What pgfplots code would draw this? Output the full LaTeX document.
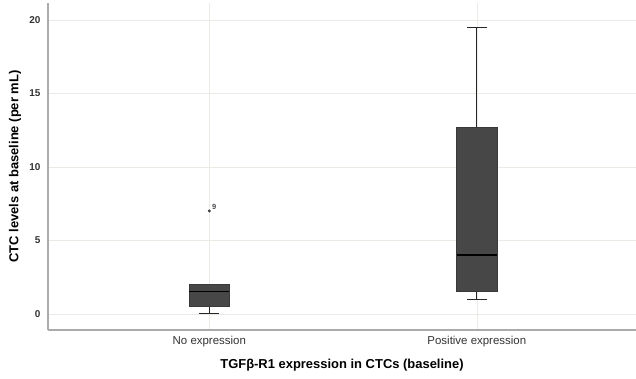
\documentclass[border=0pt]{standalone}
\usepackage{pgfplots}
\pgfplotsset{compat=1.18}
\usepgfplotslibrary{statistics}
\usepackage{fontspec}
\setmainfont{Liberation Sans}
\definecolor{boxfill}{HTML}{474747}
\definecolor{gridc}{HTML}{EBEBE6}
\definecolor{axisc}{HTML}{ABABAB}
\definecolor{txt}{HTML}{333333}
\begin{document}
\begin{tikzpicture}
\path[use as bounding box] (-48bp,-49bp) rectangle (588bp,330bp);
\begin{axis}[
  at={(0,0)}, anchor=south west,
  scale only axis,
  width=588bp, height=327bp,
  xmin=0.397, xmax=2.595,
  ymin=-1.1, ymax=21.15,
  axis x line*=bottom, axis y line*=left,
  axis line style={axisc, line width=1.3pt},
  xtick={1,2}, xticklabels={No expression, Positive expression},
  ytick={0,5,10,15,20},
  major tick length=0pt,
  grid=major,
  major grid style={gridc, line width=0.6pt},
  /pgf/number format/assume math mode=true,
  yticklabel style={font=\bfseries\fontsize{10}{11}\selectfont, text=txt, xshift=-4bp},
  xticklabel style={font=\fontsize{11.5}{13}\selectfont, text=txt, yshift=-3bp},
  xlabel={TGFβ-R1 expression in CTCs (baseline)},
  ylabel={CTC levels at baseline (per mL)},
  xlabel style={font=\bfseries\fontsize{13}{15}\selectfont, text=black, at={(axis description cs:0.5,-0.107)}, anchor=center},
  ylabel style={font=\bfseries\fontsize{13}{15}\selectfont, text=black, at={(axis description cs:-0.056,0.5)}, anchor=center},
  boxplot/draw direction=y,
  boxplot/box extend=0.15,
  boxplot/whisker extend=0.075,
  boxplot/every box/.style={fill=boxfill, draw=boxfill!80!black, line width=0.6pt},
  boxplot/every whisker/.style={black!85, line width=1pt},
  boxplot/every median/.style={black, line width=1.4pt},
  clip=false,
]
\addplot+[black,
  boxplot prepared={lower whisker=0, lower quartile=0.5, median=1.5,
    upper quartile=2.0, upper whisker=2.0, draw position=1},
  mark=*, mark size=1.3pt, mark options={fill=black!75, draw=black!75}]
  table[row sep=\\, y index=0] {data\\ 7.0\\};
\addplot+[black, mark=none,
  boxplot prepared={lower whisker=1.0, lower quartile=1.5, median=4.0,
    upper quartile=12.7, upper whisker=19.5, draw position=2}]
  coordinates {};
\node[font=\bfseries\fontsize{7.5}{8}\selectfont, text=black!70, anchor=south west, inner sep=0pt] at (axis cs:1.01,7.05) {9};
\end{axis}
\end{tikzpicture}
\end{document}
